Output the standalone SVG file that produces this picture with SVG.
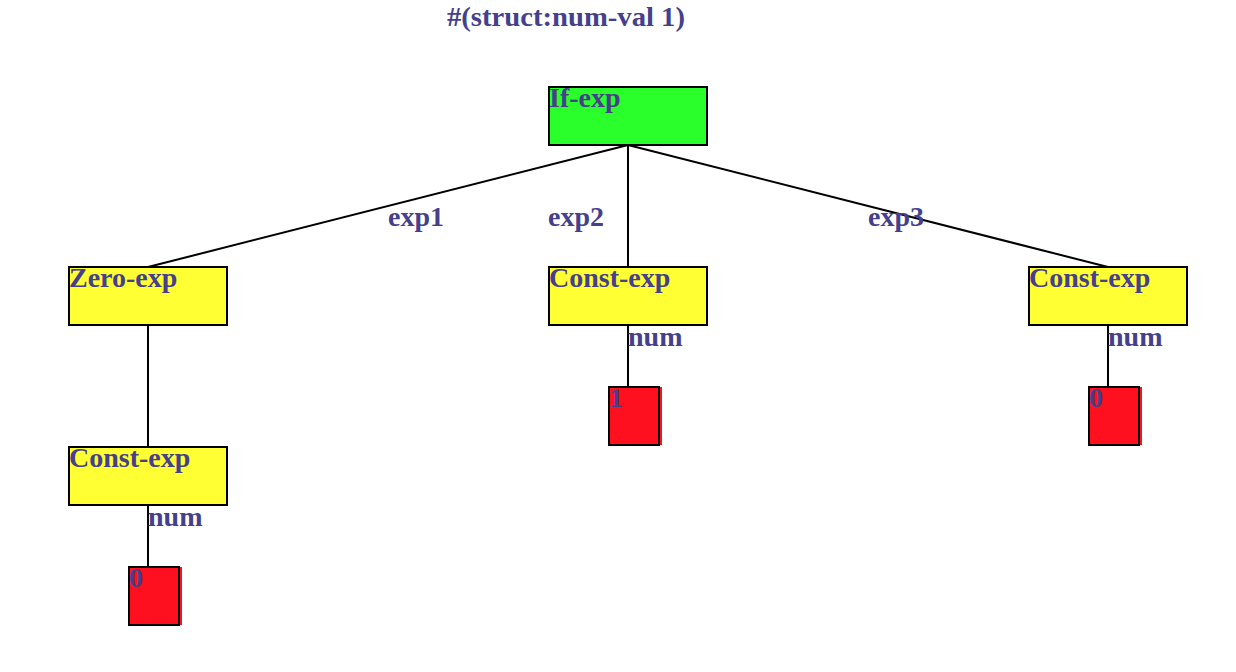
<svg xmlns="http://www.w3.org/2000/svg" width="1236" height="672" viewBox="0 0 1236 672">
<style>
text{font-family:"Liberation Serif","Times New Roman",serif;font-weight:bold;font-size:28px;fill:#453f8c}
.box{stroke:#000;stroke-width:2}
.g{fill:#2bff2b}.y{fill:#ffff33}.r{fill:#ff101f}
.edge{stroke:#000;stroke-width:2;fill:none}
</style>
<rect width="1236" height="672" fill="#fff"/>
<text x="447" y="26" textLength="238" lengthAdjust="spacingAndGlyphs">#(struct:num-val 1)</text>
<g id="connectors">
<line class="edge" x1="628" y1="145" x2="148" y2="267"/>
<line class="edge" x1="628" y1="145" x2="628" y2="267"/>
<line class="edge" x1="628" y1="145" x2="1108" y2="267"/>
<line class="edge" x1="148" y1="325" x2="148" y2="447"/>
<line class="edge" x1="628" y1="325" x2="628" y2="387"/>
<line class="edge" x1="1108" y1="325" x2="1108" y2="387"/>
<line class="edge" x1="148" y1="505" x2="148" y2="567"/>
<text x="388" y="226">exp1</text>
<text x="548" y="226">exp2</text>
<text x="868" y="226">exp3</text>
<text x="628" y="346">num</text>
<text x="1108" y="346">num</text>
<text x="148" y="526">num</text>
</g>
<g id="if-exp"><rect class="box g" x="549" y="87" width="158" height="58"/><text x="549" y="107">If-exp</text></g>
<g id="zero-exp"><rect class="box y" x="69" y="267" width="158" height="58"/><text x="69" y="287">Zero-exp</text></g>
<g id="const-exp-2"><rect class="box y" x="549" y="267" width="158" height="58"/><text x="549" y="287">Const-exp</text></g>
<g id="const-exp-3"><rect class="box y" x="1029" y="267" width="158" height="58"/><text x="1029" y="287">Const-exp</text></g>
<g id="const-exp-1"><rect class="box y" x="69" y="447" width="158" height="58"/><text x="69" y="467">Const-exp</text></g>
<g id="val-1"><rect class="r" x="609" y="387" width="53" height="58"/><rect class="box" fill="none" x="609" y="387" width="50" height="58"/><text x="609" y="407">1</text></g>
<g id="val-0-right"><rect class="r" x="1089" y="387" width="53" height="58"/><rect class="box" fill="none" x="1089" y="387" width="50" height="58"/><text x="1089" y="407">0</text></g>
<g id="val-0-left"><rect class="r" x="129" y="567" width="53" height="58"/><rect class="box" fill="none" x="129" y="567" width="50" height="58"/><text x="129" y="587">0</text></g>
</svg>
